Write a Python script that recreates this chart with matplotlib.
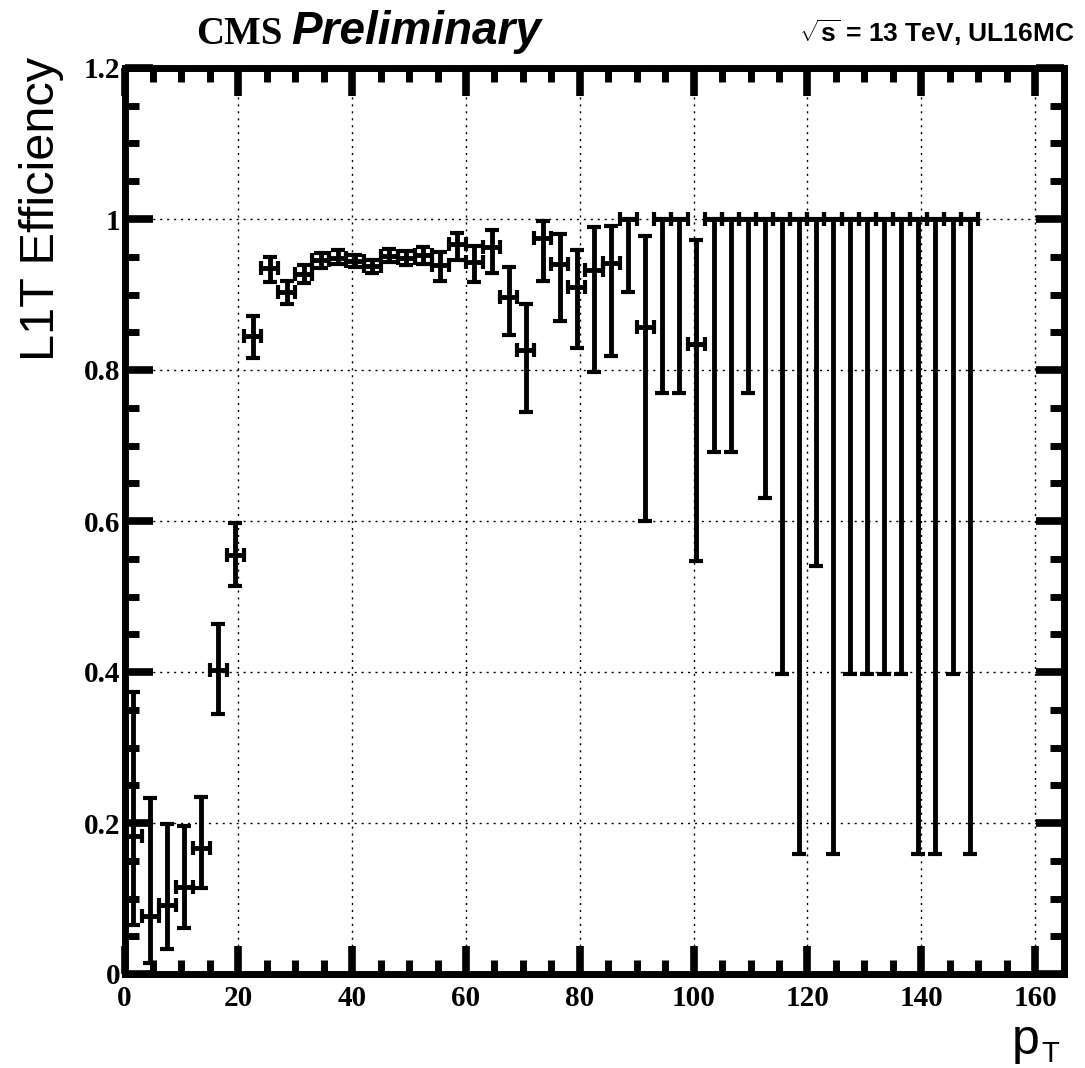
import matplotlib
matplotlib.use("Agg")
import matplotlib.pyplot as plt
from matplotlib.ticker import MultipleLocator
import numpy as np

# L1T efficiency vs pT, 3 GeV bins from 0 to 150
pt_bin_center = [1.5, 4.5, 7.5, 10.5, 13.5, 16.5, 19.5, 22.5, 25.5, 28.5,
                 31.5, 34.5, 37.5, 40.5, 43.5, 46.5, 49.5, 52.5, 55.5, 58.5,
                 61.5, 64.5, 67.5, 70.5, 73.5, 76.5, 79.5, 82.5, 85.5, 88.5,
                 91.5, 94.5, 97.5, 100.5, 103.5, 106.5, 109.5, 112.5, 115.5, 118.5,
                 121.5, 124.5, 127.5, 130.5, 133.5, 136.5, 139.5, 142.5, 145.5, 148.5]
pt_bin_half = 1.5

efficiency = [0.183, 0.077, 0.091, 0.115, 0.167, 0.403, 0.555, 0.845, 0.935, 0.903,
              0.927, 0.946, 0.949, 0.945, 0.938, 0.951, 0.948, 0.952, 0.939, 0.967,
              0.943, 0.963, 0.897, 0.826, 0.975, 0.940, 0.910, 0.933, 0.942, 1.000,
              0.857, 1.000, 1.000, 0.834, 1.000, 1.000, 1.000, 1.000, 1.000, 1.000,
              1.000, 1.000, 1.000, 1.000, 1.000, 1.000, 1.000, 1.000, 1.000, 1.000]

eff_low = [0.065, 0.014, 0.033, 0.061, 0.114, 0.344, 0.514, 0.816, 0.917, 0.887,
           0.915, 0.935, 0.940, 0.936, 0.929, 0.943, 0.939, 0.940, 0.918, 0.946,
           0.916, 0.928, 0.846, 0.744, 0.918, 0.865, 0.829, 0.797, 0.819, 0.903,
           0.600, 0.769, 0.769, 0.547, 0.692, 0.692, 0.769, 0.631, 0.398, 0.159,
           0.541, 0.159, 0.398, 0.398, 0.398, 0.398, 0.159, 0.159, 0.398, 0.159]

eff_high = [0.374, 0.233, 0.199, 0.196, 0.234, 0.464, 0.598, 0.871, 0.950, 0.918,
            0.939, 0.955, 0.959, 0.952, 0.946, 0.960, 0.957, 0.963, 0.956, 0.981,
            0.964, 0.985, 0.936, 0.888, 0.997, 0.980, 0.959, 0.989, 0.991, 1.000,
            0.977, 1.000, 1.000, 0.972, 1.000, 1.000, 1.000, 1.000, 1.000, 1.000,
            1.000, 1.000, 1.000, 1.000, 1.000, 1.000, 1.000, 1.000, 1.000, 1.000]

x = np.array(pt_bin_center)
y = np.array(efficiency)
yerr = [y - np.array(eff_low), np.array(eff_high) - y]

plt.rcParams['mathtext.fontset'] = 'custom'
plt.rcParams['mathtext.rm'] = 'Liberation Sans:bold'
plt.rcParams['mathtext.bf'] = 'Liberation Sans:bold'

W, H = 1085, 1068
fig = plt.figure(figsize=(W / 100, H / 100), dpi=100)
ax = fig.add_axes([124.5 / W, 1 - 974 / H, (1063.5 - 124.5) / W, (974 - 68) / H])

ax.errorbar(x, y, xerr=pt_bin_half, yerr=yerr, fmt='none', ecolor='black',
            elinewidth=3.5, capsize=5, capthick=3)

ax.set_xlim(0, 165)
ax.set_ylim(0, 1.2)
ax.xaxis.set_minor_locator(MultipleLocator(5))
ax.yaxis.set_minor_locator(MultipleLocator(0.05))
ax.set_xticks([0, 20, 40, 60, 80, 100, 120, 140, 160])
ax.set_xticklabels(['0', '20', '40', '60', '80', '100', '120', '140', '160'])
ax.set_yticks([0, 0.2, 0.4, 0.6, 0.8, 1.0, 1.2])
ax.set_yticklabels(['0', '0.2', '0.4', '0.6', '0.8', '1', '1.2'])

ax.grid(True, which='major', color='black', linestyle=(0, (1.5, 3.5)), linewidth=1.0)

for s in ax.spines.values():
    s.set_linewidth(5)
ax.tick_params(which='both', direction='in', top=True, right=True, color='black')
ax.tick_params(which='major', length=20, width=5.5)
ax.tick_params(which='minor', length=10, width=5)
ax.tick_params(axis='x', which='major', pad=8)
ax.tick_params(axis='y', which='major', pad=3)
for lab in ax.get_xticklabels() + ax.get_yticklabels():
    lab.set_fontfamily('Liberation Serif')
    lab.set_fontweight('bold')
    lab.set_fontsize(21)

# axis titles
fig.text(42 / W, 1 - 57 / H, 'L1T Efficiency', rotation=90, ha='center', va='top',
         fontsize=35, family='Liberation Sans')
fig.text(1012 / W, 1 - 1054 / H, 'p', ha='left', va='baseline',
         fontsize=36, family='Liberation Sans')
fig.text(1041 / W, 1 - 1062 / H, 'T', ha='left', va='baseline',
         fontsize=21, family='Liberation Sans')

# header
fig.text(196 / W, 1 - 44 / H, 'CMS', ha='left', va='baseline',
         fontsize=28, family='Liberation Serif', fontweight='bold')
fig.text(291 / W, 1 - 44 / H, 'Preliminary', ha='left', va='baseline',
         fontsize=33, family='Liberation Sans', fontweight='bold', style='italic')
fig.text(1075 / W, 1 - 42 / H, r'$\sqrt{\mathbf{s}}$ = 13 TeV, UL16MC', ha='right',
         va='baseline', fontsize=19, family='Liberation Sans', fontweight='bold')

fig.savefig('out.png', dpi=100)
